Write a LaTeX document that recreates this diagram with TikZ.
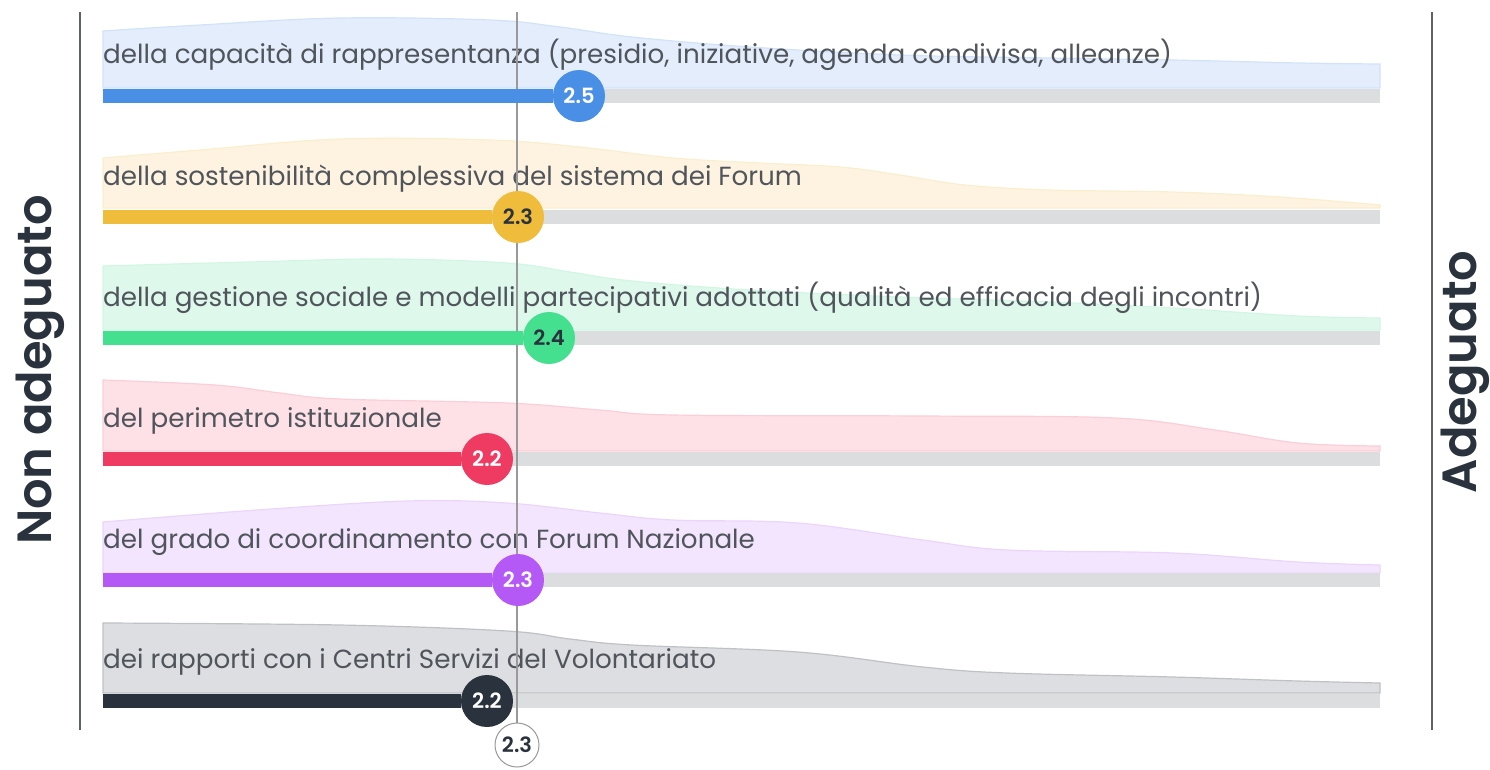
\documentclass[tikz,border=0pt]{standalone}
\usepackage{fontspec}
\setmainfont{Poppins}[BoldFont={Poppins SemiBold}]
\usepackage{tikz}
\usetikzlibrary{calc}
\usetikzlibrary{positioning}
\definecolor{bar-blu}{HTML}{4A8FE6}
\definecolor{bar-giallo}{HTML}{F0BC3C}
\definecolor{bar-verde}{HTML}{45E08F}
\definecolor{bar-rosso}{HTML}{EF3B62}
\definecolor{bar-viola}{HTML}{B459F5}
\definecolor{bar-scuro}{HTML}{2A323D}
\definecolor{dens-blu}{HTML}{E3EDFB}
\definecolor{dens-giallo}{HTML}{FDF3E0}
\definecolor{dens-verde}{HTML}{DFF8EC}
\definecolor{dens-rosso}{HTML}{FDE1E6}
\definecolor{dens-viola}{HTML}{F2E5FD}
\definecolor{dens-scuro}{HTML}{DCDEE1}
\definecolor{traccia}{HTML}{DCDDDF}
\definecolor{testo}{HTML}{50555C}
\definecolor{asse}{HTML}{5E6166}

\begin{document}
\begin{tikzpicture}[x=1pt, y=-1pt]

    \useasboundingbox (0,0) rectangle (1490,769);

    % densities
    \begin{scope}[line width=1.2pt]
        \filldraw[fill=dens-blu, draw=bar-blu!25] (103,88) -- plot[smooth, tension=0.6] coordinates {(103,31) (200,25) (340,18) (490,20) (560,27) (632,37) (750,47) (900,55) (1050,58) (1173,60) (1300,63) (1380,64)} -- (1380,88) -- cycle;
        \filldraw[fill=dens-giallo, draw=bar-giallo!25] (103,208) -- plot[smooth, tension=0.6] coordinates {(103,158) (200,150) (340,139) (490,140) (580,147) (673,158) (760,163) (840,167) (900,175) (965,185) (1050,190) (1173,192) (1280,197) (1380,205)} -- (1380,208) -- cycle;
        \filldraw[fill=dens-verde, draw=bar-verde!25] (103,330) -- plot[smooth, tension=0.6] coordinates {(103,266) (250,262) (382,259) (507,263) (570,272) (632,281) (750,290) (900,297) (1050,302) (1173,308) (1298,316) (1380,318)} -- (1380,330) -- cycle;
        \filldraw[fill=dens-rosso, draw=bar-rosso!25] (103,451) -- plot[smooth, tension=0.6] coordinates {(103,380) (215,385) (280,393) (340,399) (507,403) (600,410) (673,415) (923,416) (1115,418) (1215,430) (1298,443) (1380,446)} -- (1380,451) -- cycle;
        \filldraw[fill=dens-viola, draw=bar-viola!25] (103,573) -- plot[smooth, tension=0.6] coordinates {(103,522) (257,510) (407,501) (507,503) (600,513) (673,520) (798,523) (923,540) (1007,550) (1173,553) (1298,562) (1380,565)} -- (1380,573) -- cycle;
        \filldraw[fill=dens-scuro, draw=bar-scuro!30] (103,693) -- plot[smooth, tension=0.6] coordinates {(103,623) (340,625) (507,631) (570,639) (632,645) (798,652) (923,667) (1007,673) (1173,677) (1298,681) (1380,683)} -- (1380,693) -- cycle;
    \end{scope}

    % tracks
    \begin{scope}[every path/.style={fill=traccia}]
        \fill (103,89) rectangle (1380,103);
        \fill (103,210) rectangle (1380,224);
        \fill (103,331) rectangle (1380,345);
        \fill (103,452) rectangle (1380,466);
        \fill (103,573) rectangle (1380,587);
        \fill (103,694) rectangle (1380,708);
    \end{scope}

    % labels
    \begin{scope}[every node/.style={anchor=base west, text=testo, inner sep=0pt,
                  font=\fontsize{26.2}{30}\selectfont}]
        \node (l1) at (103,63) {della capacità di rappresentanza (presidio, iniziative, agenda condivisa, alleanze)};
        \node (l2) at (103,185) {della sostenibilità complessiva del sistema dei Forum};
        \node (l3) at (103,306) {della gestione sociale e modelli partecipativi adottati (qualità ed efficacia degli incontri)};
        \node (l4) at (103,427) {del perimetro istituzionale};
        \node (l5) at (103,548) {del grado di coordinamento con Forum Nazionale};
        \node (l6) at (103,668) {dei rapporti con i Centri Servizi del Volontariato};
    \end{scope}

    % axes
    \draw[asse, line width=2pt] (80,12) -- (80,730);
    \draw[asse, line width=2pt] (1432,12) -- (1432,730);
    \begin{scope}[every node/.style={rotate=90, anchor=base, inner sep=0pt, text=bar-scuro,
                  font=\fontsize{48}{56}\selectfont\bfseries}]
        \node (na) at (51,370) {Non adeguato};
        \node (ad) at (1476,372) {Adeguato};
    \end{scope}

    % average
    \coordinate (mtop) at (517,12);
    \node[circle, draw=black!40, fill=white, line width=1pt, minimum size=44pt, inner sep=0pt,
          text=bar-scuro, font=\fontsize{21}{24}\selectfont\bfseries] (media) at (517,745) {2.3};
    \draw[black!40, line width=1.3pt] (mtop) -- (media);

    % scores
    \coordinate (s1) at (103,96);
    \coordinate (s2) at (103,217);
    \coordinate (s3) at (103,338);
    \coordinate (s4) at (103,459);
    \coordinate (s5) at (103,580);
    \coordinate (s6) at (103,701);
    \begin{scope}[every node/.style={circle, minimum size=52pt, inner sep=0pt,
                  font=\fontsize{21}{24}\selectfont\bfseries}]
        \node[fill=bar-blu, text=white] (c1) at (579,96) {2.5};
        \node[fill=bar-giallo, text=bar-scuro] (c2) at (518,217) {2.3};
        \node[fill=bar-verde, text=bar-scuro] (c3) at (549,338) {2.4};
        \node[fill=bar-rosso, text=white] (c4) at (487,459) {2.2};
        \node[fill=bar-viola, text=white] (c5) at (518,580) {2.3};
        \node[fill=bar-scuro, text=white] (c6) at (487,701) {2.2};
    \end{scope}
    \begin{scope}[every path/.style={line width=14pt}]
        \draw[bar-blu] (s1) -- (c1);
        \draw[bar-giallo] (s2) -- (c2);
        \draw[bar-verde] (s3) -- (c3);
        \draw[bar-rosso] (s4) -- (c4);
        \draw[bar-viola] (s5) -- (c5);
        \draw[bar-scuro] (s6) -- (c6);
    \end{scope}

\end{tikzpicture}
\end{document}
